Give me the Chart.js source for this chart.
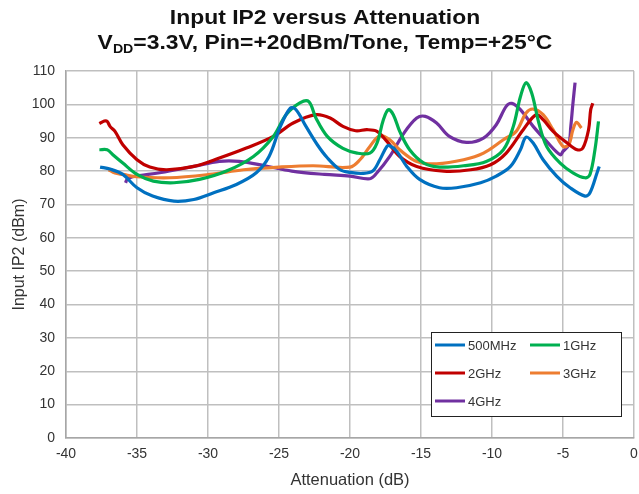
<!DOCTYPE html>
<html>
<head>
<meta charset="utf-8">
<script src="https://cdn.jsdelivr.net/npm/chart.js@4"></script>
<style>
  html, body { margin: 0; padding: 0; background: #fff; }
  #wrap { width: 639px; height: 494px; }
</style>
</head>
<body>
<div id="wrap"><canvas id="chart" width="639" height="494"></canvas></div>
<script>
// Attenuation (dB) / Input IP2 (dBm)
const att500 = [-37.6, -36.9, -36.0, -35.0, -33.9, -32.4, -31.0, -29.6, -28.0, -26.6, -25.7, -24.9, -24.2, -23.8, -23.1, -22.3, -21.6, -20.7, -20.0, -19.1, -18.4, -17.9, -17.4, -17.2, -16.7, -16.0, -15.1, -13.7, -12.5, -10.8, -9.7, -8.7, -8.0, -7.6, -7.1, -6.4, -5.45, -4.5, -3.45, -3.1, -2.6, -2.45];
const ip2500 = [81.2, 80.6, 79.0, 75.0, 72.5, 71.0, 71.5, 73.5, 76.0, 79.5, 84.4, 93.4, 98.9, 98.4, 93.4, 87.9, 84.0, 80.4, 79.6, 79.3, 80.0, 83.4, 87.4, 87.6, 85.9, 81.4, 77.5, 75.0, 75.0, 76.5, 78.5, 81.4, 86.4, 90.2, 88.4, 83.4, 78.5, 75.0, 72.5, 73.5, 79.5, 81.4];

const att1g = [-37.65, -37.1, -36.7, -36.0, -35.0, -33.85, -32.4, -30.6, -28.7, -26.8, -25.4, -24.5, -23.5, -22.9, -22.4, -21.6, -20.5, -19.5, -18.6, -18.1, -17.65, -17.3, -16.95, -16.5, -15.8, -14.8, -13.7, -12.0, -10.4, -9.2, -8.5, -8.0, -7.6, -7.2, -6.7, -6.15, -5.2, -4.3, -3.45, -3.1, -2.75, -2.5];
const ip21g = [86.4, 86.4, 84.9, 82.4, 79.0, 77.0, 76.5, 77.5, 80.0, 84.4, 90.4, 96.9, 100.5, 100.8, 95.9, 90.4, 86.8, 85.4, 85.4, 88.4, 95.4, 98.4, 96.9, 91.9, 86.4, 82.4, 81.2, 81.6, 82.9, 86.4, 93.4, 102.3, 106.5, 103.3, 94.4, 87.4, 82.4, 79.5, 78.0, 79.0, 86.4, 94.9];

const att2g = [-37.65, -37.3, -37.1, -36.9, -36.55, -36.0, -35.0, -34.1, -32.9, -31.0, -29.2, -27.3, -25.4, -24.0, -22.4, -21.4, -20.5, -19.6, -18.8, -18.1, -17.4, -16.5, -15.3, -13.4, -11.5, -10.1, -9.0, -7.8, -6.9, -6.4, -5.7, -4.7, -4.0, -3.6, -3.2, -3.05, -2.9];
const ip22g = [94.2, 95.0, 94.9, 93.4, 91.9, 87.9, 83.4, 81.2, 80.4, 81.4, 83.9, 86.9, 90.4, 94.4, 96.9, 95.9, 93.4, 92.1, 92.4, 91.9, 88.9, 84.4, 81.4, 80.0, 80.4, 81.9, 85.4, 92.4, 96.9, 95.4, 91.9, 88.4, 86.4, 86.9, 92.4, 98.4, 100.3];

const att3g = [-37.0, -36.55, -36.0, -35.0, -32.7, -29.9, -27.5, -25.0, -22.6, -20.0, -19.3, -18.6, -17.9, -17.2, -16.5, -15.3, -13.9, -12.0, -10.6, -9.2, -8.3, -7.6, -7.1, -6.4, -5.7, -5.0, -4.6, -4.3, -4.05, -3.7];
const ip23g = [80.4, 79.4, 79.0, 78.3, 78.0, 79.0, 80.4, 81.2, 81.6, 81.2, 83.4, 87.4, 90.6, 89.4, 86.4, 82.9, 82.2, 83.4, 85.4, 89.4, 91.9, 97.4, 98.6, 96.9, 92.4, 87.4, 87.9, 92.4, 94.6, 92.9];

const att4g = [-35.8, -35.7, -35.3, -33.4, -31.0, -29.2, -27.8, -26.0, -24.1, -21.8, -20.0, -18.6, -18.1, -17.2, -16.2, -15.3, -14.7, -13.9, -13.0, -11.8, -10.6, -9.7, -9.0, -8.6, -8.0, -7.1, -6.15, -5.2, -5.0, -4.6, -4.45, -4.3, -4.15];
const ip24g = [76.5, 77.5, 78.3, 79.5, 81.4, 82.9, 82.9, 81.6, 80.0, 79.0, 78.5, 77.7, 79.5, 84.4, 91.4, 95.9, 96.4, 94.4, 90.4, 88.6, 89.9, 93.9, 99.4, 100.3, 98.4, 93.4, 88.9, 84.9, 85.9, 87.9, 93.4, 100.3, 106.5];

const seriesNames = ['500MHz', '1GHz', '2GHz', '3GHz', '4GHz'];
const seriesColors = ['#0070C0', '#00B050', '#C00000', '#ED7D31', '#7030A0'];
const xTicks = [-40, -35, -30, -25, -20, -15, -10, -5, 0];
const yTicks = [0, 10, 20, 30, 40, 50, 60, 70, 80, 90, 100, 110];

const FONT = "'Liberation Sans', Arial, sans-serif";

function toPoints(xs, ys) {
    return xs.map((x, i) => ({ x: x, y: ys[i] }));
}

const allX = [att500, att1g, att2g, att3g, att4g];
const allY = [ip2500, ip21g, ip22g, ip23g, ip24g];

const datasets = seriesNames.map((name, i) => ({
    label: name,
    data: toPoints(allX[i], allY[i]),
    borderColor: seriesColors[i],
    backgroundColor: seriesColors[i],
    borderWidth: 3.2,
    pointRadius: 0,
    tension: 0.35,
    fill: false
}));

// Two-line title with V subscript DD (reference text is a bit wide, so stretch x)
const titlePlugin = {
    id: 'twoLineTitle',
    afterDraw(chart) {
        const ctx = chart.ctx;
        const cx = 325, sx = 1.09;
        ctx.save();
        ctx.translate(cx, 0);
        ctx.scale(sx, 1);
        ctx.fillStyle = '#111';
        ctx.textBaseline = 'alphabetic';
        ctx.font = 'bold 21px ' + FONT;
        ctx.textAlign = 'center';
        ctx.fillText('Input IP2 versus Attenuation', 0, 24);

        const a = 'V', sub = 'DD', rest = '=3.3V, Pin=+20dBm/Tone, Temp=+25°C';
        const bigFont = 'bold 21px ' + FONT, subFont = 'bold 13px ' + FONT;
        ctx.font = bigFont;
        const wa = ctx.measureText(a).width, wr = ctx.measureText(rest).width;
        ctx.font = subFont;
        const ws = ctx.measureText(sub).width;
        let x = -(wa + ws + wr) / 2;
        ctx.textAlign = 'left';
        ctx.font = bigFont;
        ctx.fillText(a, x, 49);
        x += wa;
        ctx.font = subFont;
        ctx.fillText(sub, x, 53);
        x += ws;
        ctx.font = bigFont;
        ctx.fillText(rest, x, 49);
        ctx.restore();
    }
};

// Boxed legend inside the plot, lower right
const legendPlugin = {
    id: 'boxLegend',
    afterDraw(chart) {
        const ctx = chart.ctx;
        const left = 431, top = 332, w = 190, h = 84;
        ctx.save();
        ctx.fillStyle = '#fff';
        ctx.fillRect(left, top, w, h);
        ctx.strokeStyle = '#222';
        ctx.lineWidth = 1;
        ctx.strokeRect(left + 0.5, top + 0.5, w, h);
        ctx.font = '13px ' + FONT;
        ctx.textBaseline = 'middle';
        ctx.textAlign = 'left';
        chart.data.datasets.forEach((ds, i) => {
            const col = i % 2, row = Math.floor(i / 2);
            const lx = left + 4 + col * 95;
            const ly = top + 13 + row * 28;
            ctx.strokeStyle = ds.borderColor;
            ctx.lineWidth = 3;
            ctx.beginPath();
            ctx.moveTo(lx, ly);
            ctx.lineTo(lx + 30, ly);
            ctx.stroke();
            ctx.fillStyle = '#333';
            ctx.fillText(ds.label, lx + 33, ly + 1);
        });
        ctx.restore();
    }
};

new Chart(document.getElementById('chart'), {
    type: 'line',
    data: { datasets: datasets },
    plugins: [titlePlugin, legendPlugin],
    options: {
        responsive: false,
        animation: false,
        devicePixelRatio: 1,
        layout: { padding: { top: 71, right: 5, left: 0, bottom: 0 } },
        plugins: {
            legend: { display: false },
            tooltip: { enabled: false }
        },
        scales: {
            x: {
                type: 'linear',
                min: -40,
                max: 0,
                afterBuildTicks: (scale) => { scale.ticks = xTicks.map(v => ({ value: v })); },
                afterFit: (scale) => { scale.height = 56; scale.paddingRight = 0; scale.paddingLeft = 0; },
                ticks: { color: '#333', font: { family: FONT, size: 14 }, padding: 8, maxRotation: 0 },
                grid: { color: '#bfbfbf', lineWidth: 1.5, drawTicks: false },
                border: { color: '#a6a6a6', width: 1.5 },
                title: { display: true, text: 'Attenuation (dB)', color: '#333', font: { family: FONT, size: 16.5 }, padding: { top: 0, bottom: 4 } }
            },
            y: {
                min: 0,
                max: 110,
                afterBuildTicks: (scale) => { scale.ticks = yTicks.map(v => ({ value: v })); },
                afterFit: (scale) => { scale.width = 66; },
                ticks: { color: '#333', font: { family: FONT, size: 14 }, padding: 11 },
                grid: { color: '#bfbfbf', lineWidth: 1.5, drawTicks: false },
                border: { color: '#a6a6a6', width: 1.5 },
                title: { display: true, text: 'Input IP2 (dBm)', color: '#333', font: { family: FONT, size: 16 }, padding: { top: 10, bottom: 0 } }
            }
        }
    }
});
</script>
</body>
</html>
